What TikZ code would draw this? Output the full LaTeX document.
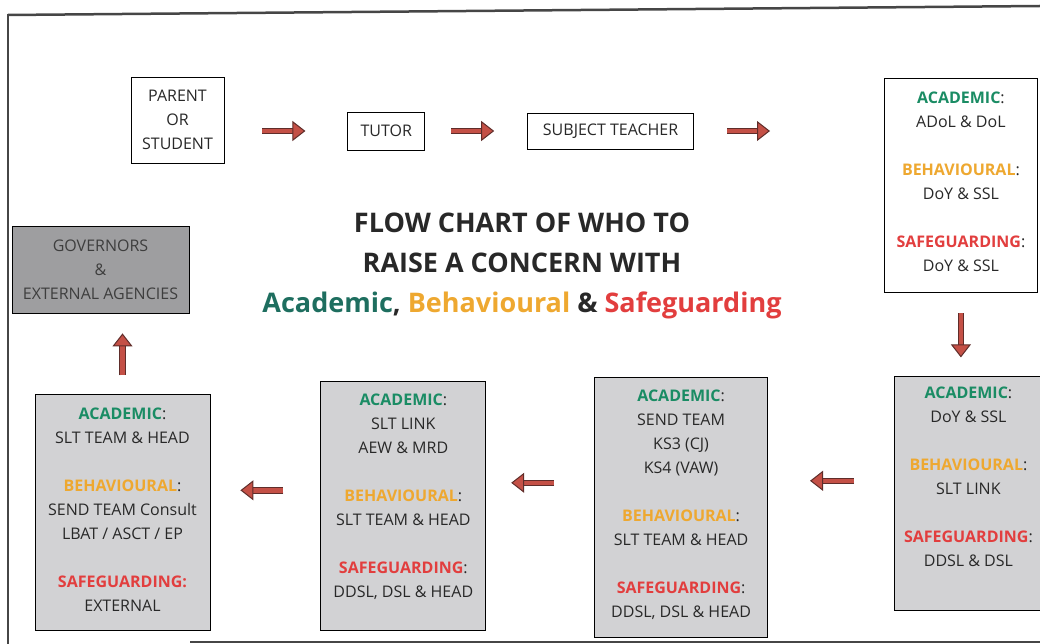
\documentclass[tikz,border=0pt]{standalone}
\usepackage{fontspec}
\setmainfont{Open Sans}
\usetikzlibrary{positioning,arrows.meta}

\definecolor{acadgreen}{RGB}{26,140,100}
\definecolor{acadteal}{RGB}{30,110,95}
\definecolor{behavorange}{RGB}{238,168,48}
\definecolor{safered}{RGB}{226,62,62}
\definecolor{textdark}{RGB}{40,40,40}
\definecolor{stagegray}{RGB}{210,210,212}
\definecolor{govgray}{RGB}{158,158,160}
\definecolor{govtext}{RGB}{62,62,62}
\definecolor{arrowred}{RGB}{196,80,70}
\definecolor{arrowdark}{RGB}{95,45,42}
\definecolor{framegray}{RGB}{70,70,70}

\newcommand{\acadhead}{\textbf{\textcolor{acadgreen}{ACADEMIC}}:}
\newcommand{\behavhead}{\textbf{\textcolor{behavorange}{BEHAVIOURAL}}:}
\newcommand{\safehead}{\textbf{\textcolor{safered}{SAFEGUARDING}}:}

\begin{document}
\begin{tikzpicture}[x=1pt, y=-1pt, node distance=1cm, thick]

    % Define styles
    \tikzstyle{plain} = [draw, rectangle, fill=white, text=textdark, align=center, inner sep=0pt, font=\fontsize{16}{24}\selectfont]
    \tikzstyle{stage} = [draw, rectangle, fill=stagegray, text=textdark, align=center, inner sep=0pt, font=\fontsize{16}{24}\selectfont]
    \tikzstyle{flow} = [draw=arrowdark, line width=1pt, double=arrowred, double distance=4.4pt, -{Triangle[length=13pt, width=20pt, fill=arrowred]}]

    \useasboundingbox (0,0) rectangle (1040,644);

    % FRAME
    \draw[line width=2.5pt, framegray] (8,15) -- (1040,6);
    \draw[line width=1.6pt, framegray] (8,14) -- (8,644);
    \draw[line width=1.6pt, framegray] (190,642) -- (1040,642);

    % TOP ROW
    \node (parent) [plain, minimum width=93pt, minimum height=86pt] at (177.5,120) {PARENT\\OR\\STUDENT};
    \node (tutor) [plain, minimum width=77pt, minimum height=38pt, right=123pt of parent, yshift=-11pt] {TUTOR};
    \node (subject) [plain, minimum width=166pt, minimum height=36pt, right=102pt of tutor] {SUBJECT TEACHER};

    % STAGES
    \node (lvl1) [stage, fill=white, minimum width=153pt, text height=193pt, text depth=21pt, right=190pt of subject, yshift=-54pt]
        {\acadhead\\ADoL \& DoL\\[24pt]\behavhead\\DoY \& SSL\\[24pt]\safehead\\DoY \& SSL};
    \node (lvl2) [stage, minimum width=148pt, text height=190pt, text depth=44pt, below=84pt of lvl1, xshift=7.5pt]
        {\acadhead\\DoY \& SSL\\[24pt]\behavhead\\SLT LINK\\[24pt]\safehead\\DDSL \& DSL};
    \node (lvl3) [stage, minimum width=173pt, text height=240pt, text depth=20pt, left=126pt of lvl2, yshift=-14pt]
        {\acadhead\\SEND TEAM\\KS3 (CJ)\\KS4 (VAW)\\[24pt]\behavhead\\SLT TEAM \& HEAD\\[24pt]\safehead\\DDSL, DSL \& HEAD};
    \node (lvl4) [stage, minimum width=165pt, text height=216pt, text depth=33pt, left=108pt of lvl3, yshift=1.5pt]
        {\acadhead\\SLT LINK\\AEW \& MRD\\[24pt]\behavhead\\SLT TEAM \& HEAD\\[24pt]\safehead\\DDSL, DSL \& HEAD};
    \node (lvl5) [stage, minimum width=175pt, text height=217pt, text depth=19pt, left=110pt of lvl4, yshift=-6.5pt]
        {\acadhead\\SLT TEAM \& HEAD\\[24pt]\behavhead\\SEND TEAM Consult\\LBAT / ASCT / EP\\[24pt]\textbf{\textcolor{safered}{SAFEGUARDING:}}\\EXTERNAL};
    \node (gov) [plain, fill=govgray, text=govtext, minimum width=177pt, minimum height=87pt, above=81pt of lvl5, xshift=-22pt]
        {GOVERNORS\\\&\\EXTERNAL AGENCIES};

    % TITLE
    \node (title) [align=center, text=textdark, font=\fontsize{27}{40}\selectfont\bfseries] at (522,266)
        {FLOW CHART OF WHO TO\\RAISE A CONCERN WITH\\\textcolor{acadteal}{Academic}, \textcolor{behavorange}{Behavioural} \& \textcolor{safered}{Safeguarding}};

    % CONNECTIONS
    \draw[flow, shorten <=38pt, shorten >=42pt] (parent.east |- tutor) -- (tutor);
    \draw[flow, shorten <=26pt, shorten >=33pt] (tutor) -- (subject);
    \draw[flow, shorten <=33pt, shorten >=114pt] (subject.east) -- (subject.east -| lvl1.west);
    \draw[flow, shorten <=21pt, shorten >=19pt] (lvl1.south) -- (lvl1.south |- lvl2.north);
    \draw[flow, shorten <=40pt, shorten >=42pt] ([yshift=13pt]lvl2.west) -- ([yshift=13pt]lvl2.west -| lvl3.east);
    \draw[flow, shorten <=40pt, shorten >=25pt] ([yshift=25pt]lvl3.west) -- ([yshift=25pt]lvl3.west -| lvl4.east);
    \draw[flow, shorten <=37pt, shorten >=30pt] ([yshift=16pt]lvl4.west) -- ([yshift=16pt]lvl4.west -| lvl5.east);
    \draw[flow, shorten <=19pt, shorten >=20pt] (lvl5.north) -- (lvl5.north |- gov.south);

\end{tikzpicture}
\end{document}
